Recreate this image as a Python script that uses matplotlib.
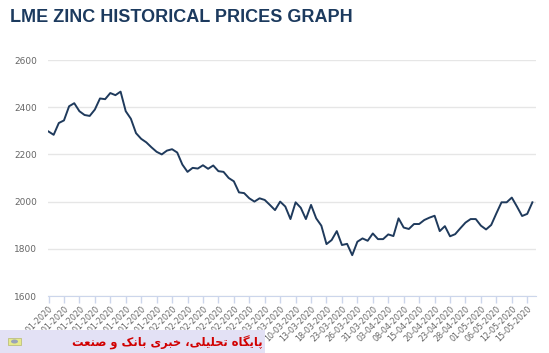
import numpy as np
import matplotlib.pyplot as plt
from matplotlib.patches import Rectangle, Ellipse

# LME zinc prices, one value per trading day 02-01-2020 .. 18-05-2020
prices = [2297, 2283, 2333, 2344, 2404, 2417, 2383, 2367, 2363, 2390,
          2437, 2434, 2460, 2451, 2466, 2383, 2351, 2290, 2266, 2251,
          2230, 2211, 2200, 2216, 2222, 2208, 2157, 2126, 2143, 2140,
          2154, 2139, 2153, 2129, 2126, 2100, 2086, 2039, 2036, 2014,
          2000, 2014, 2007, 1986, 1964, 2000, 1979, 1926, 1997, 1974,
          1926, 1986, 1929, 1898, 1820, 1837, 1875, 1816, 1821, 1773,
          1830, 1844, 1834, 1865, 1841, 1841, 1861, 1854, 1929, 1890,
          1884, 1905, 1905, 1922, 1932, 1940, 1875, 1896, 1853, 1862,
          1887, 1911, 1926, 1926, 1898, 1882, 1901, 1950, 1997, 1997,
          2017, 1979, 1939, 1948, 1997]

# every third trading day gets a label
tick_labels = ['02-01-2020', '07-01-2020', '10-01-2020', '15-01-2020', '20-01-2020',
               '23-01-2020', '28-01-2020', '31-01-2020', '05-02-2020', '10-02-2020',
               '13-02-2020', '18-02-2020', '21-02-2020', '26-02-2020', '02-03-2020',
               '05-03-2020', '10-03-2020', '13-03-2020', '18-03-2020', '23-03-2020',
               '26-03-2020', '31-03-2020', '03-04-2020', '08-04-2020', '15-04-2020',
               '20-04-2020', '23-04-2020', '28-04-2020', '01-05-2020', '06-05-2020',
               '12-05-2020', '15-05-2020']
tick_step = 3
y_ticks = [1600, 1800, 2000, 2200, 2400, 2600]

title = 'LME ZINC HISTORICAL PRICES GRAPH'
# "پایگاه تحلیلی، خبری بانک و صنعت" written in shaped presentation forms, visual order
banner = ('\ufe96\ufecc\ufee8\ufebb \ufeed \ufb8f\ufee7\ufe8e\ufe91 '
          '\ufbfc\ufeae\ufe92\ufea7 \u060c\ufbfd\ufee0\ufbff\ufee0\ufea4\ufe97 '
          '\ufee9\ufe8e\ufb95\ufbfe\ufe8e\ufb58')

W, H = 549, 353
fig = plt.figure(figsize=(W / 100, H / 100), dpi=100)
ax = fig.add_axes([48 / W, 1 - 296 / H, (536 - 48) / W, (296 - 60) / H])

x = np.arange(len(prices))
ax.plot(x, prices, color='#1f3a5c', lw=1.4, solid_joinstyle='round')

ax.set_ylim(1600, 2600)
ax.set_xlim(-0.1, 94.7)
ax.set_yticks(y_ticks)
ax.yaxis.grid(True, color='#e6e6e6', lw=1)
ax.set_axisbelow(True)
ax.tick_params(axis='y', length=0, pad=8, labelsize=6.5, labelcolor='#666666')

ticks = np.arange(0, len(tick_labels) * tick_step, tick_step)
ax.set_xticks(ticks)
ax.set_xticklabels(tick_labels, rotation=45, ha='right', rotation_mode='anchor')
ax.tick_params(axis='x', length=5, width=1, color='#ccd6eb', pad=1,
               labelsize=5.8, labelcolor='#666666')

for s in ['top', 'left', 'right']:
    ax.spines[s].set_visible(False)
ax.spines['bottom'].set_color('#ccd6eb')

fig.text(10 / W, 1 - 17 / H, title, fontsize=13, fontweight='bold',
         color='#1c3a5e', family='Liberation Sans', va='center', ha='left')

# watermark banner at the bottom
fig.patches.append(Rectangle((0, 0), 265 / W, 23 / H, transform=fig.transFigure,
                             facecolor='#e3e1f5', edgecolor='none', zorder=5))
fig.patches.append(Rectangle((8 / W, 8 / H), 13 / W, 7 / H, transform=fig.transFigure,
                             facecolor='#e6ea8c', edgecolor='#b5b870', lw=0.5, zorder=6))
fig.patches.append(Ellipse((14.5 / W, 11.5 / H), 7 / W, 4 / H, transform=fig.transFigure,
                           facecolor='#9aa4b8', edgecolor='none', zorder=7))
fig.text(167 / W, 10 / H, banner, fontsize=8.3, fontweight='bold', color='#d10000',
         family='DejaVu Sans', ha='center', va='center', zorder=8)

fig.savefig('out.png', dpi=100)
